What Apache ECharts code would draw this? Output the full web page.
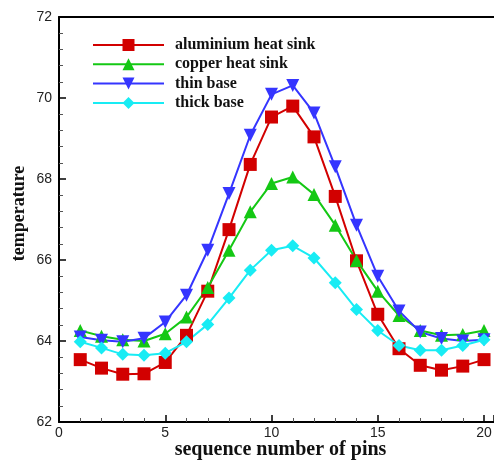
<!DOCTYPE html>
<html><head><meta charset="utf-8">
<script src="https://cdn.jsdelivr.net/npm/echarts@6/dist/echarts.min.js"></script>
<style>html,body{margin:0;padding:0;background:#fff}#c{width:494px;height:461px}</style>
</head><body><div id="c"></div>
<script>
const pins = [1,2,3,4,5,6,7,8,9,10,11,12,13,14,15,16,17,18,19,20];
const aluminium = [63.54,63.33,63.18,63.19,63.47,64.14,65.23,66.75,68.36,69.53,69.80,69.04,67.57,65.98,64.66,63.81,63.40,63.28,63.38,63.54];
const copper = [64.26,64.12,64.03,64.00,64.18,64.59,65.32,66.24,67.19,67.89,68.05,67.62,66.86,65.99,65.23,64.63,64.26,64.14,64.16,64.26];
const thinBase = [64.10,64.02,63.98,64.07,64.47,65.13,66.24,67.64,69.08,70.09,70.31,69.63,68.30,66.86,65.60,64.74,64.22,64.06,64.00,64.03];
const thickBase = [63.98,63.83,63.67,63.65,63.70,63.98,64.41,65.06,65.75,66.24,66.35,66.05,65.44,64.78,64.26,63.89,63.77,63.77,63.89,64.03];
const seriesNames = ['aluminium heat sink','copper heat sink','thin base','thick base'];

function pairs(vals){ return pins.map((p,i)=>[p, vals[i]]); }
const chart = echarts.init(document.getElementById('c'));
const serif = '"Liberation Serif","Times New Roman",serif';
const sans = '"Liberation Sans",Arial,sans-serif';
function mk(name, vals, color, symbol){
  return {name, type:'line', data:pairs(vals), symbol, symbolSize:13,
    lineStyle:{color, width:2}, itemStyle:{color}, animation:false, z:3};
}
const xMax = 20.47;
chart.setOption({
  animation:false,
  grid:{left:59, top:17, bottom:39, right:0, outerBoundsMode:'none', containLabel:false},
  legend:{orient:'vertical', left:87, top:32, itemWidth:71, itemHeight:15, itemGap:3.3,
    textStyle:{fontFamily:serif, fontWeight:'bold', fontSize:16, color:'#111', padding:[0,0,0,6]},
    data:seriesNames},
  xAxis:[{type:'value', min:0, max:xMax, interval:5,
    axisLine:{lineStyle:{color:'#000', width:2}},
    axisTick:{inside:true, length:7, lineStyle:{color:'#000', width:1.5}},
    minorTick:{show:true, splitNumber:5, length:4, lineStyle:{color:'#555'}},
    splitLine:{show:false},
    axisLabel:{showMaxLabel:false, fontFamily:sans, fontSize:14, color:'#222', margin:4},
    name:'sequence number of pins', nameLocation:'middle', nameGap:18, nameMoveOverlap:false,
    nameTextStyle:{fontFamily:serif, fontWeight:'bold', fontSize:20, color:'#111', padding:[0,0,0,8]}},
   {type:'value', position:'top', min:0, max:xMax,
    axisLine:{lineStyle:{color:'#000', width:2}},
    axisTick:{show:false}, axisLabel:{show:false}, splitLine:{show:false}}],
  yAxis:{type:'value', min:62, max:72, interval:2,
    axisLine:{lineStyle:{color:'#000', width:2}},
    axisTick:{inside:true, length:7, lineStyle:{color:'#000', width:1.5}},
    minorTick:{show:true, splitNumber:5, length:4, lineStyle:{color:'#555'}},
    splitLine:{show:false},
    axisLabel:{fontFamily:sans, fontSize:14, color:'#222', margin:7},
    name:'temperature', nameLocation:'middle', nameGap:31, nameMoveOverlap:false,
    nameTextStyle:{fontFamily:serif, fontWeight:'bold', fontSize:18, color:'#111', padding:[0,0,0,12]}},
  series:[
    mk(seriesNames[0], aluminium, '#d20000', 'rect'),
    mk(seriesNames[1], copper, '#14c814', 'triangle'),
    mk(seriesNames[2], thinBase, '#3535ff', 'path://M0,0 L10,0 L5,9 Z'),
    mk(seriesNames[3], thickBase, '#18ecf4', 'diamond')
  ]
});
</script></body></html>
